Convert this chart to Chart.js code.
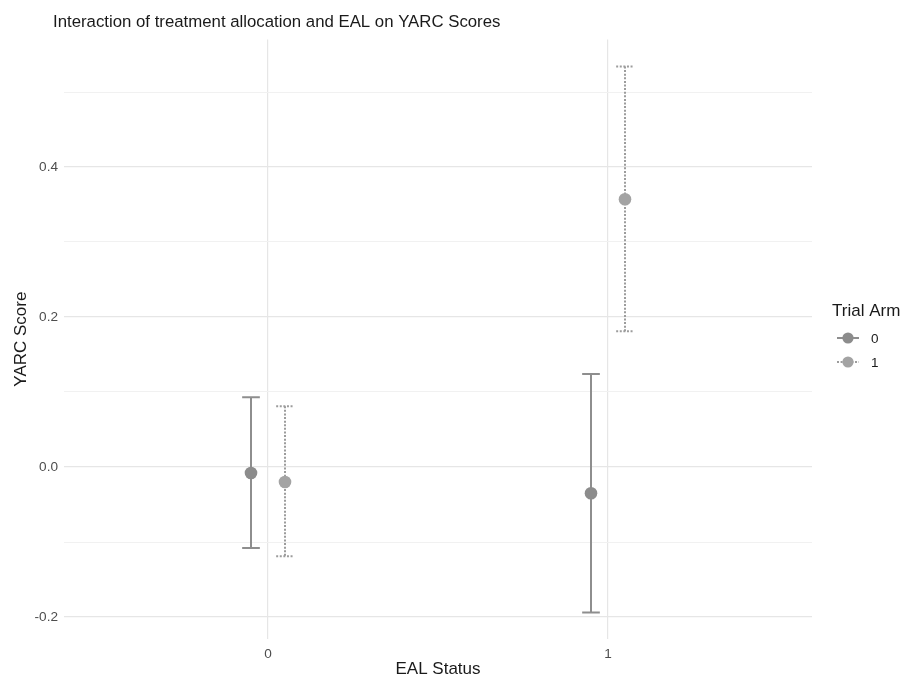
<!DOCTYPE html>
<html>
<head>
<meta charset="utf-8">
<script src="https://cdn.jsdelivr.net/npm/chart.js@4.4.1/dist/chart.umd.min.js"></script>
<style>
  html, body { margin: 0; padding: 0; background: #fff; }
  #wrap { width: 904px; height: 679px; }
</style>
</head>
<body>
<div id="wrap"><canvas id="yarcChart" width="904" height="679"></canvas></div>
<script>
// EAL status x Trial arm -> mean YARC score with CI
const ealStatus = [0, 1];
const armLabels = ['0', '1'];
const arm0Mean  = [-0.008, -0.035];
const arm0Lower = [-0.108, -0.194];
const arm0Upper = [0.093, 0.124];
const arm1Mean  = [-0.020, 0.357];
const arm1Lower = [-0.119, 0.181];
const arm1Upper = [0.081, 0.534];
const yTicks = [-0.2, -0.1, 0, 0.1, 0.2, 0.3, 0.4, 0.5];
const xTicks = [0, 1];

const FONT = "'Liberation Sans', Arial, Helvetica, sans-serif";
const armColors = ['#8c8c8c', '#a3a3a3'];
const barColors = ['#8e8e8e', '#9c9c9c'];
const armDash = [[], [2, 1.6]];
const dodge = 0.05;   // position_dodge half width
const capHalf = 0.026;

function makeDataset(i, means, lower, upper) {
  const offset = i === 0 ? -dodge : dodge;
  return {
    label: armLabels[i],
    data: ealStatus.map((x, k) => ({ x: x + offset, y: means[k] })),
    errLow: lower,
    errHigh: upper,
    dash: armDash[i],
    barColor: barColors[i],
    backgroundColor: armColors[i],
    borderColor: armColors[i],
    pointRadius: 6.3,
    pointHoverRadius: 6.3,
    borderWidth: 0
  };
}

// error bars, drawn through the chart scales
const errorBars = {
  id: 'errorBars',
  beforeDatasetsDraw(chart) {
    const { ctx, scales: { x, y } } = chart;
    chart.data.datasets.forEach(ds => {
      ctx.save();
      ctx.strokeStyle = ds.barColor;
      ctx.lineWidth = 2;
      ctx.setLineDash(ds.dash);
      ds.data.forEach((p, k) => {
        const px = x.getPixelForValue(p.x);
        const l = x.getPixelForValue(p.x - capHalf);
        const r = x.getPixelForValue(p.x + capHalf);
        const yLo = y.getPixelForValue(ds.errLow[k]);
        const yHi = y.getPixelForValue(ds.errHigh[k]);
        ctx.beginPath();
        ctx.moveTo(px, yHi); ctx.lineTo(px, yLo);
        ctx.moveTo(l, yHi); ctx.lineTo(r, yHi);
        ctx.moveTo(l, yLo); ctx.lineTo(r, yLo);
        ctx.stroke();
      });
      ctx.restore();
    });
  }
};

// plot title and legend (ggplot style)
const decorations = {
  id: 'decorations',
  afterDraw(chart) {
    const { ctx } = chart;
    ctx.save();
    ctx.fillStyle = '#1a1a1a';
    ctx.textBaseline = 'alphabetic';
    ctx.font = '16.8px ' + FONT;
    ctx.fillText('Interaction of treatment allocation and EAL on YARC Scores', 53, 27);

    ctx.font = '17px ' + FONT;
    ctx.fillText('Trial Arm', 832, 316);

    const keyY = [338, 362];
    armLabels.forEach((lab, i) => {
      ctx.strokeStyle = barColors[i];
      ctx.lineWidth = 2;
      ctx.setLineDash(armDash[i]);
      ctx.beginPath();
      ctx.moveTo(837, keyY[i]); ctx.lineTo(859, keyY[i]);
      ctx.stroke();
      ctx.setLineDash([]);
      ctx.fillStyle = armColors[i];
      ctx.beginPath();
      ctx.arc(848, keyY[i], 5.6, 0, Math.PI * 2);
      ctx.fill();
      ctx.fillStyle = '#1a1a1a';
      ctx.font = '13.5px ' + FONT;
      ctx.textBaseline = 'middle';
      ctx.fillText(lab, 871, keyY[i] + 1);
    });
    ctx.restore();
  }
};

new Chart(document.getElementById('yarcChart'), {
  type: 'scatter',
  data: {
    datasets: [
      makeDataset(0, arm0Mean, arm0Lower, arm0Upper),
      makeDataset(1, arm1Mean, arm1Lower, arm1Upper)
    ]
  },
  options: {
    responsive: false,
    animation: false,
    layout: { padding: { left: 0, top: 39.5, right: 92, bottom: 0 } },
    plugins: {
      legend: { display: false },
      title: { display: false },
      tooltip: { enabled: false }
    },
    scales: {
      x: {
        type: 'linear',
        min: -0.6,
        max: 1.6,
        afterBuildTicks: s => { s.ticks = xTicks.map(v => ({ value: v })); },
        afterFit: s => { s.height = 40.25; },
        grid: { color: '#e6e6e6', lineWidth: 1.2, drawTicks: false },
        border: { display: false },
        ticks: {
          padding: 7,
          color: '#4d4d4d',
          font: { family: FONT, size: 13.6 },
          callback: v => String(v)
        },
        title: {
          display: true,
          text: 'EAL Status',
          color: '#1a1a1a',
          font: { family: FONT, size: 17, lineHeight: 1.2 },
          padding: { top: 0, bottom: -1 }
        }
      },
      y: {
        type: 'linear',
        min: -0.229,
        max: 0.570,
        afterBuildTicks: s => { s.ticks = yTicks.map(v => ({ value: v })); },
        afterFit: s => { s.width = 64; },
        grid: {
          drawTicks: false,
          color: c => (Math.round(c.tick.value * 10) % 2 !== 0 ? '#f1f1f1' : '#e6e6e6'),
          lineWidth: c => (Math.round(c.tick.value * 10) % 2 !== 0 ? 1 : 1.2)
        },
        border: { display: false },
        ticks: {
          padding: 6,
          color: '#4d4d4d',
          font: { family: FONT, size: 13.6 },
          callback: v => (Math.round(v * 10) % 2 !== 0 ? '' : v.toFixed(1))
        },
        title: {
          display: true,
          text: 'YARC Score',
          color: '#1a1a1a',
          font: { family: FONT, size: 17, lineHeight: 1.2 },
          padding: { top: 11, bottom: 0 }
        }
      }
    }
  },
  plugins: [errorBars, decorations]
});
</script>
</body>
</html>
